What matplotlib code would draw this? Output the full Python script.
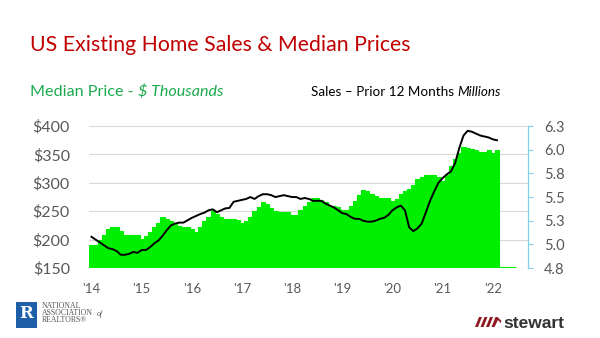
import matplotlib
matplotlib.use("Agg")
import matplotlib.pyplot as plt
import numpy as np
from matplotlib.patches import Rectangle, Polygon

# ---- data (monthly, Jan 2014 .. Sep 2022) ----
price = [190, 190, 200, 208, 218, 223, 223, 215, 209, 209, 208, 209,
         202, 207, 213, 222, 230, 239, 236, 233, 228, 224, 223, 223,
         218, 214, 222, 232, 240, 250, 246, 240, 237, 237, 236, 234,
         230, 232, 240, 250, 257, 266, 262, 255, 250, 248, 248, 248,
         243, 243, 252, 260, 266, 274, 274, 269, 266, 260, 259, 257,
         253, 252, 259, 268, 278, 287, 285, 280, 276, 273, 274, 274,
         268, 271, 280, 286, 290, 297, 307, 311, 313, 313, 313, 311,
         303, 313, 330, 342, 353, 363, 362, 360, 358, 354, 355, 357,
         353, 358, 152, 152, 152, 152, np.nan, np.nan, np.nan]
sales = [5.08, 5.05, 5.02, 4.99, 4.96, 4.95, 4.93, 4.89, 4.89, 4.90, 4.92, 4.91,
         4.94, 4.94, 4.97, 5.01, 5.04, 5.09, 5.15, 5.20, 5.22, 5.23, 5.23, 5.255,
         5.28, 5.30, 5.32, 5.335, 5.36, 5.37, 5.34, 5.36, 5.38, 5.385, 5.45, 5.46,
         5.47, 5.48, 5.50, 5.48, 5.51, 5.53, 5.53, 5.52, 5.50, 5.51, 5.52, 5.51,
         5.50, 5.50, 5.48, 5.49, 5.48, 5.46, 5.46, 5.46, 5.43, 5.41, 5.39, 5.36,
         5.33, 5.32, 5.29, 5.27, 5.27, 5.25, 5.24, 5.24, 5.25, 5.27, 5.28, 5.31,
         5.36, 5.39, 5.41, 5.36, 5.18, 5.14, 5.17, 5.22, 5.34, 5.46, 5.56, 5.65,
         5.70, 5.74, 5.77, 5.86, 6.02, 6.15, 6.20, 6.19, 6.17, 6.15, 6.14, 6.13,
         6.11, 6.10]
year_labels = ["'14", "'15", "'16", "'17", "'18", "'19", "'20", "'21", "'22"]
price_ticks = [150, 200, 250, 300, 350, 400]
price_tick_labels = ["$150", "$200", "$250", "$300", "$350", "$400"]
sales_ticks = [4.75, 5.0, 5.25, 5.5, 5.75, 6.0, 6.25]
sales_tick_labels = ["4.8", "5.0", "5.3", "5.5", "5.8", "6.0", "6.3"]

FONT = "Lato"
GRAY = "#595959"
GREEN = "#00EE00"

fig = plt.figure(figsize=(6, 3.38), dpi=100)
fig.patch.set_facecolor("white")
ax = fig.add_axes([0.149, 0.207, 0.7315, 0.420])

n = len(price)
pv = np.array(price, dtype=float)
valid = ~np.isnan(pv)
nv = int(valid.sum())
edges = np.arange(nv + 1) - 0.5
ax.stairs(pv[valid], edges, baseline=0, fill=True, color=GREEN, linewidth=0,
          zorder=2)
ax.stairs(pv[valid], edges, baseline=None, fill=False, color=GREEN, linewidth=0.8,
          zorder=2)
ax.set_xlim(-0.5, n - 0.5)
ax.set_ylim(150, 400)
ax.set_yticks(price_ticks)
ax.set_yticklabels(price_tick_labels, fontfamily=FONT, fontsize=11.5, color=GRAY)
ax.set_xticks(np.arange(len(year_labels)) * 12)
ax.set_xticklabels(year_labels, fontfamily=FONT, fontsize=9.5, color=GRAY)
ax.tick_params(axis="y", length=0, pad=14)
ax.tick_params(axis="x", length=0, pad=11)
ax.grid(axis="y", color="#D9D9D9", linewidth=0.8, zorder=0)
ax.set_axisbelow(True)
for s in ax.spines.values():
    s.set_visible(False)

ax2 = ax.twinx()
ax2.plot(np.arange(len(sales)), sales, color="black", linewidth=1.4, zorder=3)
ax2.set_ylim(4.75, 6.25)
ax2.set_yticks(sales_ticks)
ax2.set_yticklabels(sales_tick_labels, fontfamily=FONT, fontsize=10.5, color=GRAY)
ax2.tick_params(axis="y", length=3.5, color="#7FD0EA", pad=8)
for k, s in ax2.spines.items():
    s.set_visible(k == "right")
ax2.spines["right"].set_color("#7FD0EA")
ax2.spines["right"].set_linewidth(0.9)

# ---- titles ----
fig.text(0.05, 1 - 45 / 338, "US Existing Home Sales & Median Prices",
         fontfamily=FONT, fontsize=15.3, color="#C00000", va="center", ha="left")
t1 = fig.text(0.05, 1 - 92 / 338, "Median Price - ", fontfamily=FONT, fontsize=11.6,
              color="#1DAA4E", va="center", ha="left")
fig.canvas.draw()
ax.annotate("$ Thousands", xy=(1, 0), xycoords=t1, va="bottom", ha="left",
            fontfamily=FONT, fontsize=11.6, color="#1DAA4E", style="italic",
            annotation_clip=False)
t2 = fig.text(0.518, 1 - 92 / 338, "Sales \u2013 Prior 12 Months ", fontfamily=FONT,
              fontsize=9.7, color="black", va="center", ha="left")
ax.annotate("Millions", xy=(1, 0), xycoords=t2, va="bottom", ha="left",
            fontfamily=FONT, fontsize=9.7, color="black", style="italic",
            annotation_clip=False)

# ---- logos ----
fig.patches.append(Rectangle((16 / 600, 1 - 328 / 338), 21 / 600, 26 / 338,
                             transform=fig.transFigure, facecolor="#1F5FA8",
                             edgecolor="none"))
fig.text(26.5 / 600, 1 - 313 / 338, "R", fontfamily="DejaVu Serif", fontsize=12,
         fontweight="bold", color="white", ha="center", va="center")
for i, line in enumerate(["NATIONAL", "ASSOCIATION", "REALTORS\u00ae"]):
    fig.text(42 / 600, 1 - (305.5 + 7.5 * i) / 338, line, fontfamily="Liberation Serif",
             fontsize=5.6, color="#555555", ha="left", va="center")
fig.text(97 / 600, 1 - 313.5 / 338, "of", fontfamily="Liberation Serif", fontsize=5.6,
         style="italic", color="#555555", ha="left", va="center")

red = "#8E1B22"
for i in range(3):
    x0 = 475 + i * 5.5
    fig.patches.append(Polygon([(x0 / 600, 1 - 327 / 338), ((x0 + 3) / 600, 1 - 327 / 338),
                                ((x0 + 7) / 600, 1 - 317 / 338), ((x0 + 4) / 600, 1 - 317 / 338)],
                               closed=True, transform=fig.transFigure,
                               facecolor=red, edgecolor="none"))
x0 = 491.5
fig.patches.append(Polygon([(x0 / 600, 1 - 327 / 338), ((x0 + 3) / 600, 1 - 327 / 338),
                            ((x0 + 6.5) / 600, 1 - 320 / 338), ((x0 + 9) / 600, 1 - 323 / 338),
                            ((x0 + 10) / 600, 1 - 321 / 338), ((x0 + 6) / 600, 1 - 317 / 338),
                            ((x0 + 4) / 600, 1 - 317 / 338)],
                           closed=True, transform=fig.transFigure,
                           facecolor=red, edgecolor="none"))
fig.text(503 / 600, 1 - 327.5 / 338, "stewart", fontfamily="Liberation Sans",
         fontsize=12.5, fontweight="bold", color="#333333", ha="left", va="baseline")

fig.savefig("out.png", dpi=100, facecolor="white")
